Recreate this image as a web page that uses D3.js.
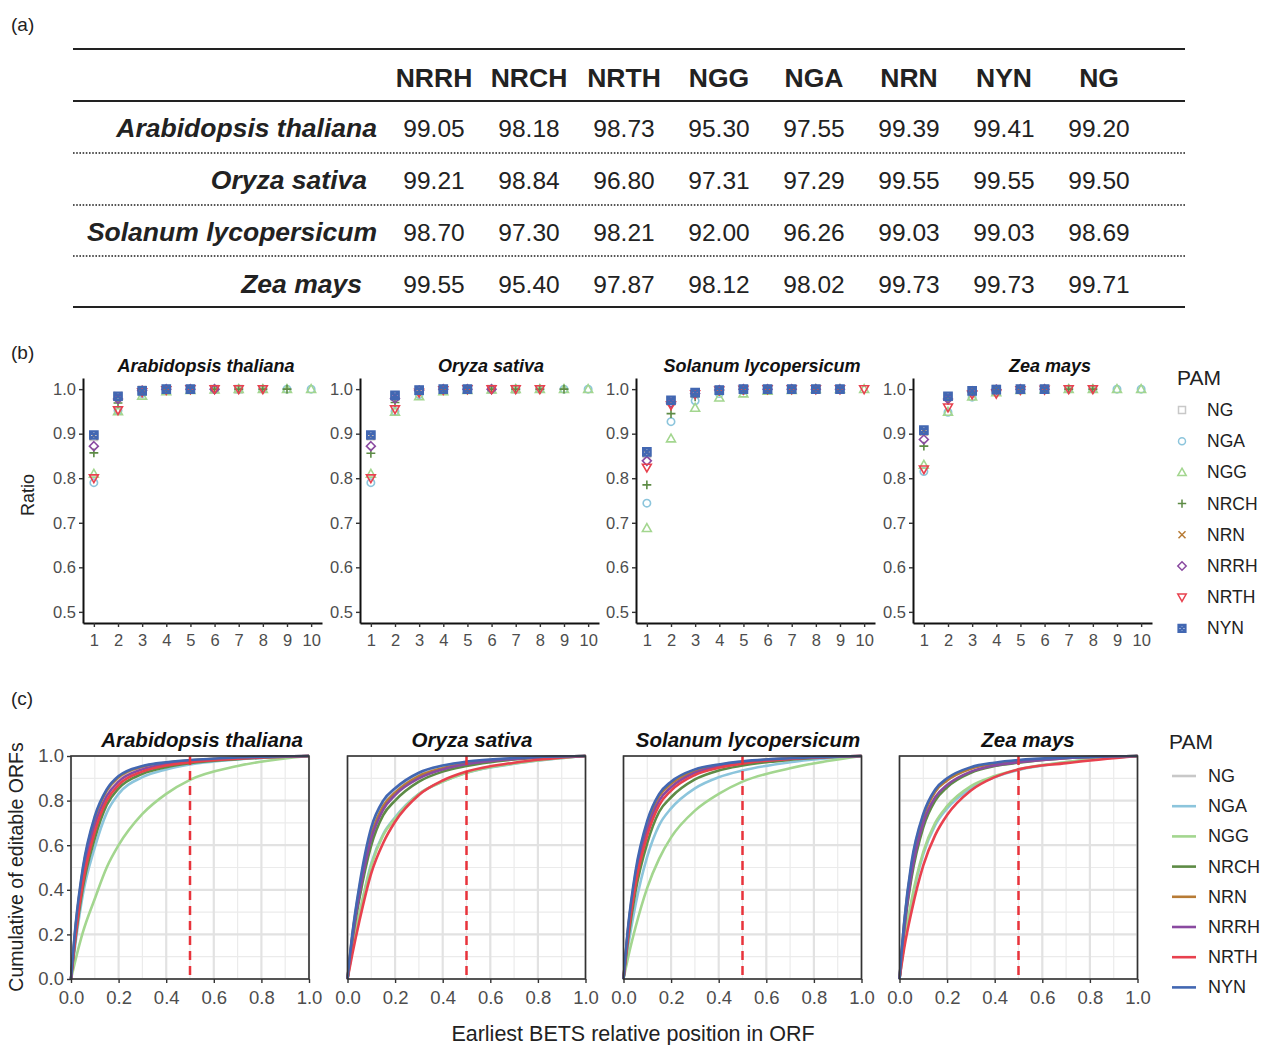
<!DOCTYPE html>
<html>
<head>
<meta charset="utf-8">
<script src="https://cdn.jsdelivr.net/npm/d3@7"></script>
<style>
  body { margin: 0; background: #fff; }
  text { font-family: "Liberation Sans", Arial, Helvetica, sans-serif; }
</style>
</head>
<body>
<div id="chart"></div>
<script>
// ---- data ----
var species = ["Arabidopsis thaliana", "Oryza sativa", "Solanum lycopersicum", "Zea mays"];
var pams = ["NG", "NGA", "NGG", "NRCH", "NRN", "NRRH", "NRTH", "NYN"];
var pamColors = ["#c8c8c8", "#8cc5dc", "#a3d68f", "#5d8b45", "#b77b35", "#8a4aa0", "#e8414e", "#4267b2"];

// (a) table
var tableCols = ["NRRH", "NRCH", "NRTH", "NGG", "NGA", "NRN", "NYN", "NG"];
var tableAth = ["99.05", "98.18", "98.73", "95.30", "97.55", "99.39", "99.41", "99.20"];
var tableOsa = ["99.21", "98.84", "96.80", "97.31", "97.29", "99.55", "99.55", "99.50"];
var tableSly = ["98.70", "97.30", "98.21", "92.00", "96.26", "99.03", "99.03", "98.69"];
var tableZma = ["99.55", "95.40", "97.87", "98.12", "98.02", "99.73", "99.73", "99.71"];
var tableRows = [tableAth, tableOsa, tableSly, tableZma];

// (b) ratio by position 1..10, rows in pams order
var ratioTicks = [0.5, 0.6, 0.7, 0.8, 0.9, 1.0];
var posTicks = [1, 2, 3, 4, 5, 6, 7, 8, 9, 10];
var ratioAth = [
  [0.893, 0.983, 0.998, 1.0, 1.0, 1.0, 1.0],
  [0.790, 0.952, 0.990, 0.997, 0.999, 1.0, 1.0, 1.0, 1.0, 1.0],
  [0.810, 0.950, 0.985, 0.995, 0.998, 0.999, 1.0, 1.0, 1.0, 1.0],
  [0.857, 0.969, 0.995, 0.999, 1.0, 1.0, 1.0, 1.0, 1.0],
  [0.895, 0.985, 0.998, 1.0, 1.0],
  [0.872, 0.978, 0.997, 1.0, 1.0, 1.0],
  [0.800, 0.953, 0.993, 0.998, 1.0, 1.0, 1.0, 1.0],
  [0.897, 0.984, 0.996, 1.0, 1.0]
];
var ratioOsa = [
  [0.895, 0.984, 0.998, 1.0, 1.0, 1.0, 1.0],
  [0.790, 0.950, 0.988, 0.997, 0.999, 1.0, 1.0, 1.0, 1.0, 1.0],
  [0.810, 0.949, 0.984, 0.995, 0.998, 0.999, 1.0, 1.0, 1.0, 1.0],
  [0.856, 0.970, 0.994, 0.999, 1.0, 1.0, 1.0, 1.0, 1.0],
  [0.895, 0.984, 0.998, 1.0, 1.0],
  [0.872, 0.979, 0.997, 1.0, 1.0, 1.0],
  [0.800, 0.955, 0.992, 0.998, 1.0, 1.0, 1.0, 1.0],
  [0.897, 0.986, 0.998, 1.0, 1.0]
];
var ratioSly = [
  [0.855, 0.973, 0.992, 0.998, 1.0, 1.0, 1.0, 1.0],
  [0.744, 0.927, 0.974, 0.990, 0.997, 0.999, 1.0, 1.0, 1.0],
  [0.688, 0.889, 0.958, 0.981, 0.990, 0.996, 0.998, 1.0, 1.0, 1.0],
  [0.785, 0.945, 0.983, 0.995, 0.998, 1.0, 1.0, 1.0, 1.0],
  [0.857, 0.974, 0.992, 0.998, 1.0, 1.0, 1.0, 1.0],
  [0.839, 0.969, 0.990, 0.998, 1.0, 1.0, 1.0, 1.0, 1.0],
  [0.824, 0.964, 0.989, 0.997, 0.999, 1.0, 1.0, 1.0, 1.0, 1.0],
  [0.859, 0.975, 0.992, 0.998, 1.0, 1.0, 1.0, 1.0, 1.0]
];
var ratioZma = [
  [0.905, 0.983, 0.996, 1.0, 1.0, 1.0],
  [0.815, 0.948, 0.982, 0.993, 0.998, 0.999, 1.0, 1.0, 1.0, 1.0],
  [0.830, 0.949, 0.983, 0.993, 0.998, 0.999, 1.0, 1.0, 1.0, 1.0],
  [0.872, 0.975, 0.994, 0.999, 1.0, 1.0, 1.0, 1.0],
  [0.905, 0.984, 0.997, 1.0, 1.0, 1.0],
  [0.887, 0.978, 0.995, 0.999, 1.0, 1.0],
  [0.820, 0.959, 0.988, 0.990, 0.998, 0.999, 1.0, 1.0],
  [0.908, 0.984, 0.996, 0.999, 1.0, 1.0]
];
var ratioRows = [ratioAth, ratioOsa, ratioSly, ratioZma];

// (c) cumulative share of editable ORFs at relative positions
var relPos = [0, 0.02, 0.05, 0.1, 0.15, 0.2, 0.3, 0.4, 0.5, 0.7, 1.0];
var cumTicks = [0, 0.2, 0.4, 0.6, 0.8, 1.0];
var cumAth = [
  [0, 0.24, 0.48, 0.715, 0.84, 0.90, 0.950, 0.969, 0.979, 0.992, 1],
  [0, 0.17, 0.38, 0.59, 0.745, 0.83, 0.905, 0.940, 0.962, 0.984, 1],
  [0, 0.09, 0.21, 0.36, 0.50, 0.60, 0.74, 0.830, 0.893, 0.955, 1],
  [0, 0.19, 0.41, 0.63, 0.78, 0.855, 0.92, 0.950, 0.968, 0.986, 1],
  [0, 0.24, 0.49, 0.72, 0.845, 0.905, 0.952, 0.970, 0.980, 0.992, 1],
  [0, 0.22, 0.46, 0.69, 0.82, 0.885, 0.94, 0.963, 0.976, 0.990, 1],
  [0, 0.20, 0.43, 0.66, 0.80, 0.87, 0.93, 0.957, 0.972, 0.988, 1],
  [0, 0.25, 0.50, 0.73, 0.85, 0.91, 0.955, 0.972, 0.982, 0.993, 1]
];
var cumOsa = [
  [0, 0.195, 0.41, 0.66, 0.785, 0.845, 0.915, 0.950, 0.970, 0.990, 1],
  [0, 0.13, 0.29, 0.52, 0.65, 0.725, 0.83, 0.885, 0.925, 0.965, 1],
  [0, 0.13, 0.29, 0.51, 0.645, 0.72, 0.83, 0.885, 0.925, 0.966, 1],
  [0, 0.17, 0.36, 0.60, 0.735, 0.80, 0.885, 0.930, 0.955, 0.984, 1],
  [0, 0.19, 0.40, 0.645, 0.775, 0.835, 0.91, 0.945, 0.967, 0.988, 1],
  [0, 0.18, 0.38, 0.63, 0.76, 0.825, 0.90, 0.940, 0.963, 0.987, 1],
  [0, 0.11, 0.26, 0.475, 0.61, 0.705, 0.825, 0.89, 0.93, 0.97, 1],
  [0, 0.20, 0.42, 0.68, 0.80, 0.855, 0.925, 0.957, 0.975, 0.991, 1]
];
var cumSly = [
  [0, 0.235, 0.47, 0.70, 0.825, 0.88, 0.937, 0.960, 0.975, 0.990, 1],
  [0, 0.15, 0.33, 0.55, 0.69, 0.765, 0.855, 0.905, 0.935, 0.972, 1],
  [0, 0.10, 0.23, 0.41, 0.54, 0.635, 0.755, 0.83, 0.885, 0.945, 1],
  [0, 0.18, 0.39, 0.61, 0.75, 0.815, 0.895, 0.935, 0.957, 0.983, 1],
  [0, 0.23, 0.46, 0.69, 0.82, 0.875, 0.933, 0.958, 0.973, 0.990, 1],
  [0, 0.22, 0.44, 0.67, 0.80, 0.86, 0.925, 0.953, 0.970, 0.988, 1],
  [0, 0.20, 0.42, 0.645, 0.78, 0.845, 0.915, 0.947, 0.966, 0.987, 1],
  [0, 0.24, 0.48, 0.71, 0.83, 0.885, 0.94, 0.962, 0.976, 0.990, 1]
];
var cumZma = [
  [0, 0.255, 0.51, 0.735, 0.845, 0.895, 0.947, 0.968, 0.980, 0.993, 1],
  [0, 0.16, 0.34, 0.56, 0.69, 0.765, 0.855, 0.905, 0.937, 0.972, 1],
  [0, 0.16, 0.35, 0.57, 0.70, 0.775, 0.865, 0.91, 0.94, 0.973, 1],
  [0, 0.22, 0.45, 0.68, 0.80, 0.86, 0.925, 0.955, 0.970, 0.990, 1],
  [0, 0.25, 0.50, 0.725, 0.84, 0.89, 0.943, 0.965, 0.978, 0.992, 1],
  [0, 0.23, 0.47, 0.70, 0.815, 0.87, 0.93, 0.958, 0.972, 0.990, 1],
  [0, 0.14, 0.30, 0.51, 0.645, 0.735, 0.845, 0.905, 0.94, 0.968, 1],
  [0, 0.26, 0.52, 0.74, 0.85, 0.90, 0.95, 0.970, 0.982, 0.993, 1]
];
var cumRows = [cumAth, cumOsa, cumSly, cumZma];

// ---- svg ----
var svg = d3.select("#chart").append("svg")
  .attr("width", 1262)
  .attr("height", 1045);

var tickGrey = "#4d4d4d";

function panelLabel(txt, x, y) {
  svg.append("text").attr("x", x).attr("y", y)
    .attr("font-size", 19).attr("fill", "#222").text(txt);
}
panelLabel("(a)", 11, 31);
panelLabel("(b)", 11, 359);
panelLabel("(c)", 11, 705);

// ---- (a) table ----
var tbl = svg.append("g");
var tL = 73, tR = 1185;
var labelRight = [377, 367, 377, 362];
var colX = d3.scalePoint().domain(tableCols).range([434, 1099]);
var rowY = d3.scalePoint().domain(species).range([128, 284]);

[49, 101, 307].forEach(function(y) {
  tbl.append("line").attr("x1", tL).attr("x2", tR).attr("y1", y).attr("y2", y)
    .attr("stroke", "#222").attr("stroke-width", 2);
});
[153, 205, 256].forEach(function(y) {
  tbl.append("line").attr("x1", tL).attr("x2", tR).attr("y1", y).attr("y2", y)
    .attr("stroke", "#555").attr("stroke-width", 2).attr("stroke-dasharray", "1.6,1.6");
});

tbl.selectAll(".hdr").data(tableCols).enter().append("text")
  .attr("x", function(d) { return colX(d); })
  .attr("y", 87)
  .attr("text-anchor", "middle")
  .attr("font-size", 26.5).attr("font-weight", "bold").attr("fill", "#222")
  .text(function(d) { return d; });

species.forEach(function(sp, i) {
  var yy = rowY(sp) + 9;
  tbl.append("text").attr("x", labelRight[i]).attr("y", yy)
    .attr("text-anchor", "end")
    .attr("font-size", 26.5).attr("font-weight", "bold").attr("font-style", "italic")
    .attr("fill", "#222").text(sp);
  tbl.selectAll(".v" + i).data(tableRows[i]).enter().append("text")
    .attr("x", function(d, j) { return colX(tableCols[j]); })
    .attr("y", yy)
    .attr("text-anchor", "middle")
    .attr("font-size", 24.5).attr("fill", "#222")
    .text(function(d) { return d; });
});

// ---- (b) ratio points ----
function shapePath(k, s) {
  var circ = "M" + s + ",0A" + s + "," + s + " 0 1,1 " + (-s) + ",0A" + s + "," + s + " 0 1,1 " + s + ",0Z";
  var sq = "M" + (-s) + "," + (-s) + "H" + s + "V" + s + "H" + (-s) + "Z";
  var t = s * 1.2;
  switch (k) {
    case 0: return sq;
    case 1: return circ;
    case 2: return "M0," + (-t) + "L" + t + "," + (t * 0.75) + "L" + (-t) + "," + (t * 0.75) + "Z";
    case 3: return "M" + (-t) + ",0H" + t + "M0," + (-t) + "V" + t;
    case 4: return "M" + (-s) + "," + (-s) + "L" + s + "," + s + "M" + (-s) + "," + s + "L" + s + "," + (-s);
    case 5: return "M0," + (-t) + "L" + t + ",0L0," + t + "L" + (-t) + ",0Z";
    case 6: return "M0," + t + "L" + t + "," + (-t * 0.75) + "L" + (-t) + "," + (-t * 0.75) + "Z";
    case 7: return sq + "M" + (-s) + "," + (-s) + "L" + s + "," + s + "M" + (-s) + "," + s + "L" + s + "," + (-s);
  }
}

var bLeft = [83, 360, 636, 913], bW = 239;
var bTitleX = [206, 491, 762, 1050];
var yB = d3.scaleLinear().domain([0.475, 1.025]).range([623, 378]);
var xB = d3.scaleLinear().domain([0.55, 10.45]).range([0, bW]);

species.forEach(function(sp, i) {
  var g = svg.append("g").attr("transform", "translate(" + bLeft[i] + ",0)");

  g.append("text").attr("x", bTitleX[i] - bLeft[i]).attr("y", 372)
    .attr("text-anchor", "middle")
    .attr("font-size", 18).attr("font-weight", "bold").attr("font-style", "italic")
    .attr("fill", "#111").text(sp);

  var ya = g.append("g").call(d3.axisLeft(yB).tickValues(ratioTicks).tickSize(4).tickSizeOuter(0)
    .tickFormat(d3.format(".1f")));
  var xa = g.append("g").attr("transform", "translate(0,623)")
    .call(d3.axisBottom(xB).tickValues(posTicks).tickSize(4).tickSizeOuter(0));
  [ya, xa].forEach(function(a) {
    a.select(".domain").attr("stroke", "#111").attr("stroke-width", 2);
    a.selectAll(".tick line").attr("stroke", "#333").attr("stroke-width", 1.4);
    a.selectAll(".tick text").attr("fill", tickGrey).attr("font-size", 16.5)
      .attr("font-family", "Liberation Sans, Arial, sans-serif");
  });
  xa.selectAll(".tick text").attr("dy", "0.95em");

  ratioRows[i].forEach(function(vals, k) {
    g.append("g").selectAll("path").data(vals).enter().append("path")
      .attr("transform", function(d, j) { return "translate(" + xB(j + 1) + "," + yB(d) + ")"; })
      .attr("d", shapePath(k, 3.7))
      .attr("fill", "none")
      .attr("stroke", pamColors[k])
      .attr("stroke-width", k === 7 ? 2.3 : 1.6);
  });
});

svg.append("text")
  .attr("transform", "translate(34,495) rotate(-90)")
  .attr("text-anchor", "middle").attr("font-size", 18).attr("fill", "#222")
  .text("Ratio");

// legend (b)
var legB = svg.append("g");
legB.append("text").attr("x", 1177).attr("y", 385).attr("font-size", 21).attr("fill", "#222").text("PAM");
pams.forEach(function(p, k) {
  var yy = 410 + k * 31.2;
  legB.append("path").attr("transform", "translate(1182," + yy + ")")
    .attr("d", shapePath(k, 3.5)).attr("fill", "none")
    .attr("stroke", pamColors[k]).attr("stroke-width", k === 7 ? 2.2 : 1.5);
  legB.append("text").attr("x", 1207).attr("y", yy + 6).attr("font-size", 17.5).attr("fill", "#222").text(p);
});

// ---- (c) cumulative curves ----
var cLeft = [71, 347.5, 623.5, 899.5], cW = 238, cTop = 756, cH = 223;
var cTitleX = [202, 472, 748, 1028];
var xC = d3.scaleLinear().domain([0, 1]).range([0, cW]);
var yC = d3.scaleLinear().domain([0, 1]).range([cH, 0]);
var minor = [0.1, 0.3, 0.5, 0.7, 0.9];
var line = d3.line()
  .x(function(d) { return xC(d[0]); })
  .y(function(d) { return yC(d[1]); })
  .curve(d3.curveMonotoneX);

species.forEach(function(sp, i) {
  var g = svg.append("g").attr("transform", "translate(" + cLeft[i] + "," + cTop + ")");

  g.append("text").attr("x", cTitleX[i] - cLeft[i]).attr("y", -9)
    .attr("text-anchor", "middle")
    .attr("font-size", 20.5).attr("font-weight", "bold").attr("font-style", "italic")
    .attr("fill", "#111").text(sp);

  // grid
  g.selectAll(".mnx").data(minor).enter().append("line")
    .attr("x1", function(d) { return xC(d); }).attr("x2", function(d) { return xC(d); })
    .attr("y1", 0).attr("y2", cH).attr("stroke", "#ebebeb").attr("stroke-width", 1.2);
  g.selectAll(".mny").data(minor).enter().append("line")
    .attr("y1", function(d) { return yC(d); }).attr("y2", function(d) { return yC(d); })
    .attr("x1", 0).attr("x2", cW).attr("stroke", "#ebebeb").attr("stroke-width", 1.2);
  g.selectAll(".mjx").data(cumTicks).enter().append("line")
    .attr("x1", function(d) { return xC(d); }).attr("x2", function(d) { return xC(d); })
    .attr("y1", 0).attr("y2", cH).attr("stroke", "#e2e2e2").attr("stroke-width", 2.2);
  g.selectAll(".mjy").data(cumTicks).enter().append("line")
    .attr("y1", function(d) { return yC(d); }).attr("y2", function(d) { return yC(d); })
    .attr("x1", 0).attr("x2", cW).attr("stroke", "#e2e2e2").attr("stroke-width", 2.2);

  cumRows[i].forEach(function(vals, k) {
    var pts = vals.map(function(v, j) { return [relPos[j], v]; });
    g.append("path").datum(pts)
      .attr("d", line)
      .attr("fill", "none")
      .attr("stroke", pamColors[k])
      .attr("stroke-width", 2.6);
  });

  g.append("line").attr("x1", xC(0.5)).attr("x2", xC(0.5)).attr("y1", 0).attr("y2", cH)
    .attr("stroke", "#e8333b").attr("stroke-width", 2.5).attr("stroke-dasharray", "9,6");

  g.append("rect").attr("width", cW).attr("height", cH)
    .attr("fill", "none").attr("stroke", "#333").attr("stroke-width", 1.6);

  var xa = g.append("g").attr("transform", "translate(0," + cH + ")")
    .call(d3.axisBottom(xC).tickValues(cumTicks).tickSize(4).tickSizeOuter(0).tickFormat(d3.format(".1f")));
  xa.select(".domain").remove();
  xa.selectAll(".tick line").attr("stroke", "#333").attr("stroke-width", 1.4);
  xa.selectAll(".tick text").attr("fill", tickGrey).attr("font-size", 18.5).attr("dy", "0.95em")
    .attr("font-family", "Liberation Sans, Arial, sans-serif");

  if (i === 0) {
    var ya = g.append("g")
      .call(d3.axisLeft(yC).tickValues(cumTicks).tickSize(4).tickSizeOuter(0).tickFormat(d3.format(".1f")));
    ya.select(".domain").remove();
    ya.selectAll(".tick line").attr("stroke", "#333").attr("stroke-width", 1.4);
    ya.selectAll(".tick text").attr("fill", tickGrey).attr("font-size", 18.5)
      .attr("font-family", "Liberation Sans, Arial, sans-serif");
  }
});

svg.append("text")
  .attr("transform", "translate(23,867) rotate(-90)")
  .attr("text-anchor", "middle").attr("font-size", 19.5).attr("fill", "#222")
  .text("Cumulative of editable ORFs");
svg.append("text")
  .attr("x", 633).attr("y", 1041)
  .attr("text-anchor", "middle").attr("font-size", 21.5).attr("fill", "#222")
  .text("Earliest BETS relative position in ORF");

// legend (c)
var legC = svg.append("g");
legC.append("text").attr("x", 1169).attr("y", 749).attr("font-size", 21).attr("fill", "#222").text("PAM");
pams.forEach(function(p, k) {
  var yy = 776 + k * 30.2;
  legC.append("line").attr("x1", 1172).attr("x2", 1196).attr("y1", yy).attr("y2", yy)
    .attr("stroke", pamColors[k]).attr("stroke-width", 2.6);
  legC.append("text").attr("x", 1208).attr("y", yy + 6).attr("font-size", 18).attr("fill", "#222").text(p);
});
</script>
</body>
</html>
